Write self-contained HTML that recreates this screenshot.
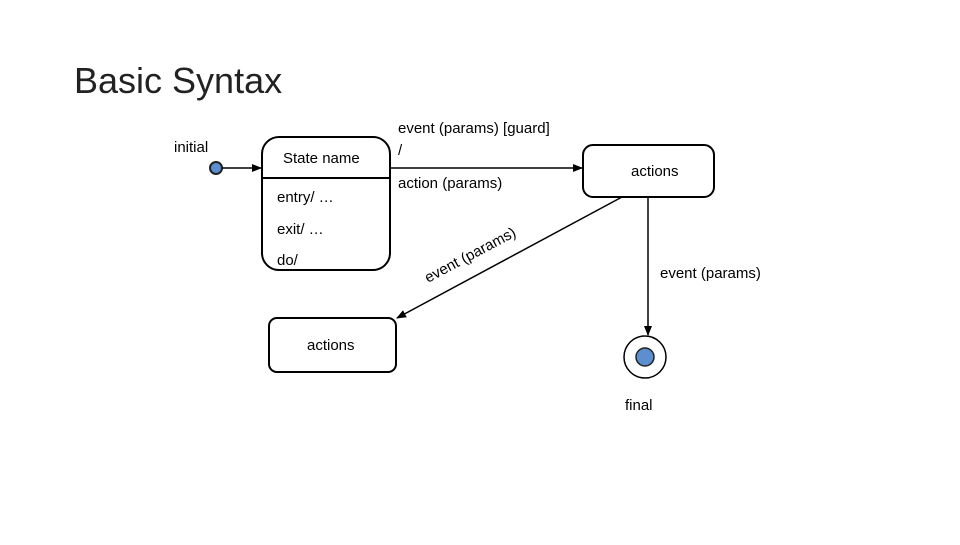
<!DOCTYPE html>
<html><head><style>
body{margin:0;background:#fff;}
svg text{font-family:"Liberation Sans",sans-serif;}
</style></head><body>
<svg width="960" height="540" viewBox="0 0 960 540" xmlns="http://www.w3.org/2000/svg">
<defs><marker id="a" markerWidth="10" markerHeight="8" refX="9" refY="4" orient="auto" markerUnits="userSpaceOnUse"><path d="M0,0 L10,4 L0,8 Z" fill="#000"/></marker></defs>
<text x="74" y="93" font-size="36" fill="#222">Basic Syntax</text>
<text x="174" y="152" font-size="15">initial</text>
<circle cx="216" cy="168" r="6" fill="#5b8fd0" stroke="#222" stroke-width="2"/>
<line x1="222" y1="168" x2="261" y2="168" stroke="#000" stroke-width="1.5" marker-end="url(#a)"/>
<rect x="262" y="137" width="128" height="133" rx="17" fill="none" stroke="#000" stroke-width="2"/>
<line x1="262" y1="178" x2="390" y2="178" stroke="#000" stroke-width="2"/>
<text x="283" y="163" font-size="15">State name</text>
<text x="277" y="202" font-size="15">entry/ …</text>
<text x="277" y="234" font-size="15">exit/ …</text>
<text x="277" y="265" font-size="15">do/</text>
<text x="398" y="133" font-size="15">event (params) [guard]</text>
<text x="398" y="155" font-size="15">/</text>
<text x="398" y="188" font-size="15">action (params)</text>
<line x1="390" y1="168" x2="582" y2="168" stroke="#000" stroke-width="1.5" marker-end="url(#a)"/>
<rect x="583" y="145" width="131" height="52" rx="10" fill="none" stroke="#000" stroke-width="2"/>
<text x="631" y="176" font-size="15">actions</text>
<line x1="622" y1="197" x2="397" y2="318" stroke="#000" stroke-width="1.5" marker-end="url(#a)"/>
<text x="0" y="0" font-size="15" transform="translate(428,283) rotate(-28)">event (params)</text>
<rect x="269" y="318" width="127" height="54" rx="8" fill="none" stroke="#000" stroke-width="2"/>
<text x="307" y="350" font-size="15">actions</text>
<line x1="648" y1="197" x2="648" y2="335" stroke="#000" stroke-width="1.5" marker-end="url(#a)"/>
<text x="660" y="278" font-size="15">event (params)</text>
<circle cx="645" cy="357" r="21" fill="none" stroke="#000" stroke-width="1.5"/>
<circle cx="645" cy="357" r="9" fill="#5b8fd0" stroke="#222" stroke-width="1.5"/>
<text x="625" y="410" font-size="15">final</text>
</svg>
</body></html>
